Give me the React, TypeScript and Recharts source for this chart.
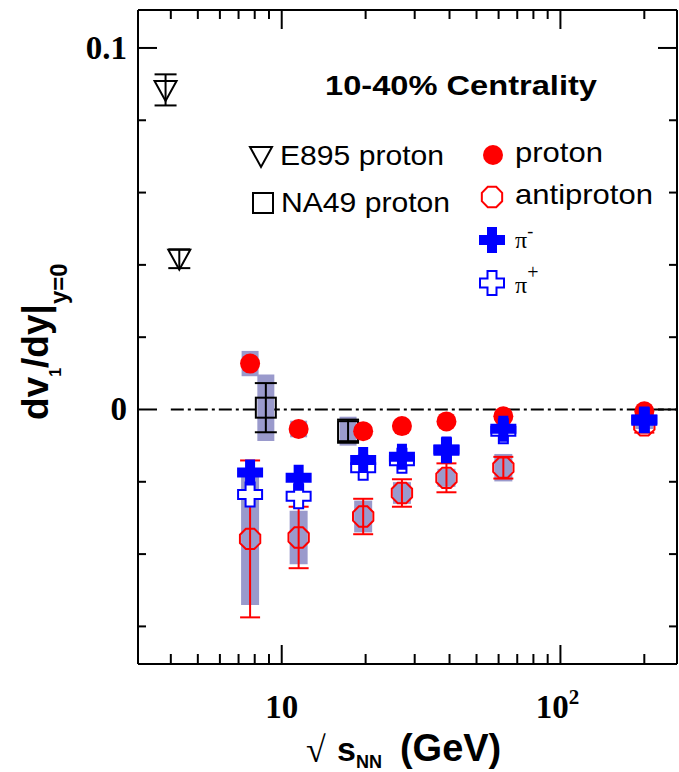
import React from 'react';
import { ScatterChart, Scatter, XAxis, YAxis, ErrorBar, ReferenceLine } from 'recharts';

// STAR beam energy scan, sqrt(s_NN) in GeV
const starEnergy = [7.7, 11.5, 19.6, 27, 39, 62.4, 200];
const protonSlope = [0.0127, -0.0054, -0.006, -0.0046, -0.0033, -0.0019, -0.0005];
const protonSys = [0.0035, 0.0023, 0.0015, 0.001, 0.001, 0.001, 0.0008];
const antiprotonSlope = [-0.0358, -0.0354, -0.0296, -0.0231, -0.0189, -0.0161, -0.0044];
const antiprotonStat = [0.0217, 0.0085, 0.0049, 0.0038, 0.004, 0.003, 0.002];
const antiprotonSys = [0.0183, 0.0074, 0.0044, 0.003, 0.0025, 0.0038, 0.001];
const piMinusSlope = [-0.0174, -0.0189, -0.014, -0.0131, -0.0111, -0.0053, -0.0028];
const piPlusSlope = [-0.0235, -0.024, -0.0161, -0.0142, -0.0113, -0.006, -0.003];

const e895Energy = [3.83, 4.29];
const e895Slope = [0.0884, 0.0417];
const e895Stat = [0.0043, 0.0026];

const na49Energy = [8.77, 17.3];
const na49Slope = [0.0005, -0.006];
const na49Stat = [0.0068, 0.0032];
const na49Sys = [0.0092, 0.004];

const xTicks = [4, 5, 6, 7, 8, 9, 10, 20, 30, 40, 50, 60, 70, 80, 90, 100, 200];
const yTicks = [-0.06, -0.04, -0.02, 0, 0.02, 0.04, 0.06, 0.08, 0.1];
const xMajor = [10, 100];
const yMajor = [0, 0.1];

const X_DOMAIN = [3.05, 262];
const Y_DOMAIN = [-0.0704, 0.1105];

const RED = '#ff0000';
const BLUE = '#0000ff';
const BAND = '#9a9acc';
const SANS = '"Liberation Sans", Arial, sans-serif';
const SERIF = '"Liberation Serif", "Times New Roman", serif';

const rows = (xs: number[], ys: number[], errs?: number[]) =>
  xs.map((x, i) => ({ x, y: ys[i], err: errs ? errs[i] : 0 }));

const crossPath = (cx: number, cy: number, s = 13, t = 5) =>
  `M${cx - t},${cy - s}H${cx + t}V${cy - t}H${cx + s}V${cy + t}H${cx + t}V${cy + s}H${cx - t}V${cy + t}H${cx - s}V${cy - t}H${cx - t}Z`;

const octagon = (cx: number, cy: number, r = 11) =>
  Array.from({ length: 8 }, (_, k) => {
    const a = ((22.5 + 45 * k) * Math.PI) / 180;
    return `${cx + r * Math.cos(a)},${cy + r * Math.sin(a)}`;
  }).join(' ');

const Dot = ({ cx, cy }: any) => <circle cx={cx} cy={cy} r={10} fill={RED} />;
const Oct = ({ cx, cy }: any) => (
  <polygon points={octagon(cx, cy)} fill="none" stroke={RED} strokeWidth={2} />
);
const FullCross = ({ cx, cy }: any) => <path d={crossPath(cx, cy)} fill={BLUE} />;
const OpenCross = ({ cx, cy }: any) => (
  <path d={crossPath(cx, cy, 12, 4.5)} fill="#fff" stroke={BLUE} strokeWidth={2} />
);
const TriDown = ({ cx, cy }: any) => (
  <polygon
    points={`${cx - 11},${cy - 9} ${cx + 11},${cy - 9} ${cx},${cy + 11}`}
    fill="none"
    stroke="#000"
    strokeWidth={2}
  />
);
const Square = ({ cx, cy }: any) => (
  <rect x={cx - 10} y={cy - 10} width={20} height={20} fill="none" stroke="#000" strokeWidth={2} />
);
const Nothing = () => <g />;

const BottomTick = (p: any) => {
  const v = p.payload.value;
  const major = xMajor.includes(v);
  return (
    <g>
      <line x1={p.x} x2={p.x} y1={p.y} y2={p.y - (major ? 19 : 10)} stroke="#000" strokeWidth={2} />
      {v === 10 && (
        <text x={p.x} y={p.y + 54} textAnchor="middle" fontFamily={SERIF} fontWeight="bold" fontSize={33} fill="#000">
          10
        </text>
      )}
      {v === 100 && (
        <text x={p.x - 3} y={p.y + 54} textAnchor="middle" fontFamily={SERIF} fontWeight="bold" fontSize={33} fill="#000">
          10<tspan dy={-14} fontSize={21}>2</tspan>
        </text>
      )}
    </g>
  );
};

const TopTick = (p: any) => {
  const major = xMajor.includes(p.payload.value);
  return <line x1={p.x} x2={p.x} y1={p.y} y2={p.y + (major ? 19 : 9)} stroke="#000" strokeWidth={2} />;
};

const LeftTick = (p: any) => {
  const v = p.payload.value;
  const major = yMajor.includes(v);
  return (
    <g>
      <line x1={p.x} x2={p.x + (major ? 19 : 8)} y1={p.y} y2={p.y} stroke="#000" strokeWidth={2} />
      {major && (
        <text x={p.x - 11} y={p.y + 11} textAnchor="end" fontFamily={SERIF} fontWeight="bold" fontSize={33} fill="#000">
          {v === 0 ? '0' : '0.1'}
        </text>
      )}
    </g>
  );
};

const RightTick = (p: any) => {
  const major = yMajor.includes(p.payload.value);
  return <line x1={p.x} x2={p.x - (major ? 19 : 8)} y1={p.y} y2={p.y} stroke="#000" strokeWidth={2} />;
};

const axisLine = { stroke: '#000', strokeWidth: 2 };

export default function App() {
  return (
    <div style={{ position: 'absolute', left: 0, top: 0, width: 679, height: 772, background: '#fff' }}>
      <ScatterChart width={679} height={772} margin={{ top: 0, right: 0, bottom: 0, left: 0 }}>
        <XAxis
          dataKey="x"
          type="number"
          scale="log"
          domain={X_DOMAIN}
          allowDataOverflow
          ticks={xTicks}
          interval={0}
          height={108}
          tickSize={0}
          tickMargin={0}
          tickLine={false}
          axisLine={axisLine}
          tick={BottomTick}
        />
        <XAxis
          xAxisId="top"
          orientation="top"
          dataKey="x"
          type="number"
          scale="log"
          domain={X_DOMAIN}
          allowDataOverflow
          ticks={xTicks}
          interval={0}
          height={10}
          tickSize={0}
          tickMargin={0}
          tickLine={false}
          axisLine={axisLine}
          tick={TopTick}
        />
        <YAxis
          dataKey="y"
          type="number"
          domain={Y_DOMAIN}
          allowDataOverflow
          ticks={yTicks}
          interval={0}
          width={138}
          tickSize={0}
          tickMargin={0}
          tickLine={false}
          axisLine={axisLine}
          tick={LeftTick}
        />
        <YAxis
          yAxisId="right"
          orientation="right"
          dataKey="y"
          type="number"
          domain={Y_DOMAIN}
          allowDataOverflow
          ticks={yTicks}
          interval={0}
          width={2}
          tickSize={0}
          tickMargin={0}
          tickLine={false}
          axisLine={axisLine}
          tick={RightTick}
        />
        <ReferenceLine
          segment={[{ x: 4, y: 0 }, { x: X_DOMAIN[1], y: 0 }]}
          stroke="#000"
          strokeWidth={2}
          strokeDasharray="13 4 3 4"
          ifOverflow="visible"
        />

        {/* systematic bands */}
        <Scatter data={rows(na49Energy, na49Slope, na49Sys)} shape={Nothing} isAnimationActive={false}>
          <ErrorBar dataKey="err" direction="y" width={0} stroke={BAND} strokeWidth={17} isAnimationActive={false} />
        </Scatter>
        <Scatter data={rows(starEnergy, protonSlope, protonSys)} shape={Nothing} isAnimationActive={false}>
          <ErrorBar dataKey="err" direction="y" width={0} stroke={BAND} strokeWidth={17} isAnimationActive={false} />
        </Scatter>
        <Scatter data={rows(starEnergy, antiprotonSlope, antiprotonSys)} shape={Nothing} isAnimationActive={false}>
          <ErrorBar dataKey="err" direction="y" width={0} stroke={BAND} strokeWidth={18} isAnimationActive={false} />
        </Scatter>

        <Scatter data={rows(e895Energy, e895Slope, e895Stat)} shape={TriDown} isAnimationActive={false}>
          <ErrorBar dataKey="err" direction="y" width={11} stroke="#000" strokeWidth={2} isAnimationActive={false} />
        </Scatter>
        <Scatter data={rows(na49Energy, na49Slope, na49Stat)} shape={Square} isAnimationActive={false}>
          <ErrorBar dataKey="err" direction="y" width={11} stroke="#000" strokeWidth={2} isAnimationActive={false} />
        </Scatter>
        <Scatter data={rows(starEnergy, antiprotonSlope, antiprotonStat)} shape={Oct} isAnimationActive={false}>
          <ErrorBar dataKey="err" direction="y" width={10} stroke={RED} strokeWidth={2} isAnimationActive={false} />
        </Scatter>
        <Scatter data={rows(starEnergy, protonSlope)} shape={Dot} isAnimationActive={false} />
        <Scatter data={rows(starEnergy, piPlusSlope)} shape={OpenCross} isAnimationActive={false} />
        <Scatter data={rows(starEnergy, piMinusSlope)} shape={FullCross} isAnimationActive={false} />
      </ScatterChart>

      <svg
        width={679}
        height={772}
        style={{ position: 'absolute', left: 0, top: 0, pointerEvents: 'none' }}
      >
        <text x={325} y={95} fontFamily={SANS} fontWeight="bold" fontSize={28} textLength={272} lengthAdjust="spacingAndGlyphs">
          10-40% Centrality
        </text>

        <TriDown cx={261} cy={156} />
        <text x={280} y={165} fontFamily={SANS} fontSize={28} textLength={164} lengthAdjust="spacingAndGlyphs">
          E895 proton
        </text>
        <Square cx={263} cy={203} />
        <text x={281} y={212} fontFamily={SANS} fontSize={28} textLength={169} lengthAdjust="spacingAndGlyphs">
          NA49 proton
        </text>

        <Dot cx={493} cy={155} />
        <text x={515} y={162} fontFamily={SANS} fontSize={28} textLength={88} lengthAdjust="spacingAndGlyphs">
          proton
        </text>
        <Oct cx={492} cy={197} />
        <text x={515} y={204} fontFamily={SANS} fontSize={28} textLength={138} lengthAdjust="spacingAndGlyphs">
          antiproton
        </text>
        <FullCross cx={492} cy={240} />
        <text x={515} y={248} fontFamily={SERIF} fontSize={24}>
          π<tspan dy={-11} fontSize={18}>-</tspan>
        </text>
        <OpenCross cx={492} cy={283} />
        <text x={515} y={293} fontFamily={SERIF} fontSize={24}>
          π<tspan dy={-14} fontSize={20}>+</tspan>
        </text>

        <text transform="translate(48,420) rotate(-90)" fontFamily={SANS} fontWeight="bold" fontSize={37}>
          dv<tspan dy={13} fontSize={16}>1</tspan>
          <tspan dy={-13}>/dy|</tspan>
          <tspan dy={19} fontSize={24}>y=0</tspan>
        </text>

        <text x={306} y={762} fontFamily={SERIF} fontSize={36}>√</text>
        <text x={337} y={761} fontFamily={SANS} fontWeight="bold" fontSize={34}>
          s<tspan dy={7} fontSize={18}>NN</tspan>
          <tspan dx={18} dy={-7} fontSize={38}>(GeV)</tspan>
        </text>
      </svg>
    </div>
  );
}
